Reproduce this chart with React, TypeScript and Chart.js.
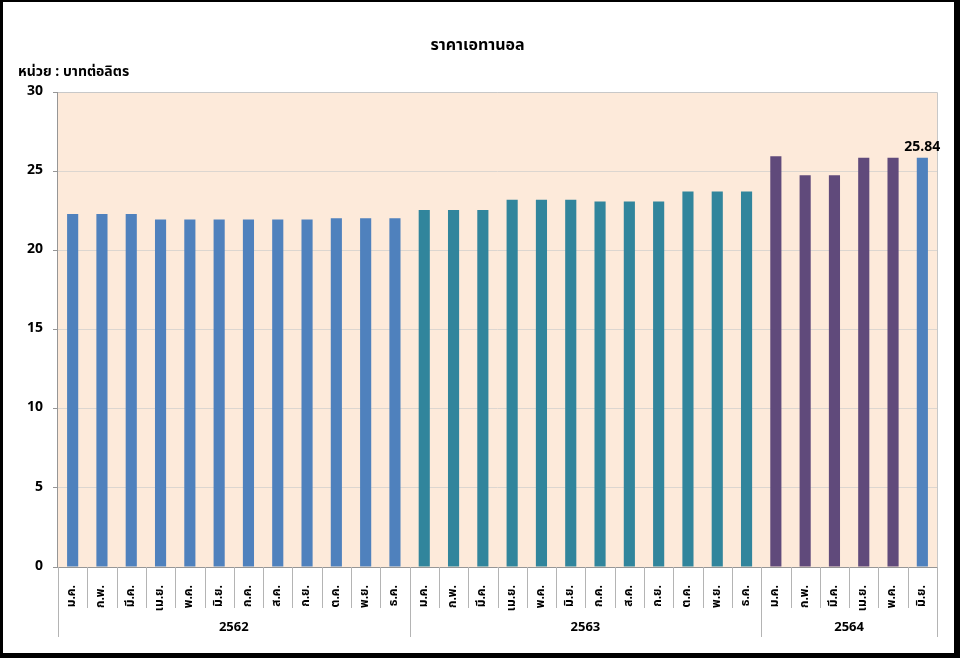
import React, { useEffect, useRef } from "react";
import { Chart, registerables } from "chart.js";

Chart.register(...registerables);

const TITLE = "ราคาเอทานอล";
const UNIT_LABEL = "หน่วย : บาทต่อลิตร";
const MONTHS = ["ม.ค.", "ก.พ.", "มี.ค.", "เม.ย.", "พ.ค.", "มิ.ย.", "ก.ค.", "ส.ค.", "ก.ย.", "ต.ค.", "พ.ย.", "ธ.ค."];
const YEARS = ["2562", "2563", "2564"];
const VALUES_2562 = [22.3, 22.3, 22.3, 21.94, 21.94, 21.94, 21.94, 21.94, 21.94, 22.03, 22.03, 22.03];
const VALUES_2563 = [22.55, 22.55, 22.55, 23.2, 23.2, 23.2, 23.09, 23.09, 23.09, 23.72, 23.72, 23.72];
const VALUES_2564 = [25.95, 24.75, 24.75, 25.84, 25.84, 25.84];
const YEAR_COLORS = ["#4F81BD", "#31859C", "#604A7B"];
const HIGHLIGHT_COLOR = "#4F81BD";
const Y_MIN = 0;
const Y_MAX = 30;
const Y_STEP = 5;

const FONT = "Tahoma, 'Noto Sans Thai', Loma, 'Noto Sans', 'DejaVu Sans', sans-serif";

const yearSeries = [VALUES_2562, VALUES_2563, VALUES_2564];
const labels: string[] = [];
const values: number[] = [];
const yearIndex: number[] = [];
yearSeries.forEach((arr, yi) => {
  arr.forEach((v, i) => {
    labels.push(MONTHS[i]);
    values.push(v);
    yearIndex.push(yi);
  });
});
const lastIdx = values.length - 1;
const bgColors = values.map((_, i) => (i === lastIdx ? HIGHLIGHT_COLOR : YEAR_COLORS[yearIndex[i]]));

const areaPlugin = {
  id: "areaDeco",
  beforeDraw(chart: any) {
    const { ctx, chartArea: a } = chart;
    ctx.save();
    ctx.fillStyle = "#FDEADA";
    ctx.fillRect(a.left, a.top, a.right - a.left, a.bottom - a.top);
    ctx.restore();
  },
  afterDatasetsDraw(chart: any) {
    const { ctx, chartArea: a } = chart;
    const xs = chart.scales.x;
    ctx.save();
    ctx.lineWidth = 1;
    ctx.strokeStyle = "#C8C8C8";
    ctx.beginPath();
    ctx.moveTo(a.left, a.top + 0.5);
    ctx.lineTo(a.right + 0.5, a.top + 0.5);
    ctx.lineTo(a.right + 0.5, a.bottom);
    ctx.stroke();
    ctx.strokeStyle = "#969696";
    ctx.beginPath();
    ctx.moveTo(a.left - 0.5, a.top);
    ctx.lineTo(a.left - 0.5, a.bottom + 0.5);
    ctx.lineTo(a.right + 0.5, a.bottom + 0.5);
    ctx.stroke();

    const n = values.length;
    let acc = 0;
    const groupStarts: number[] = [0];
    yearSeries.forEach((arr) => {
      acc += arr.length;
      groupStarts.push(acc);
    });
    ctx.strokeStyle = "#B4B4B4";
    for (let i = 0; i <= n; i++) {
      const x = Math.round(xs.getPixelForValue(i - 0.5)) + 0.5;
      const isGroup = groupStarts.includes(i);
      ctx.beginPath();
      ctx.moveTo(x, a.bottom);
      ctx.lineTo(x, a.bottom + (isGroup ? 70 : 41));
      ctx.stroke();
    }
    ctx.fillStyle = "#000";
    ctx.font = `bold 13px ${FONT}`;
    ctx.textAlign = "center";
    ctx.textBaseline = "middle";
    for (let g = 0; g < YEARS.length; g++) {
      const x1 = xs.getPixelForValue(groupStarts[g] - 0.5);
      const x2 = xs.getPixelForValue(groupStarts[g + 1] - 0.5);
      ctx.fillText(YEARS[g], (x1 + x2) / 2, a.bottom + 61);
    }
    const meta = chart.getDatasetMeta(0);
    const bar = meta.data[lastIdx];
    if (bar) {
      ctx.textBaseline = "bottom";
      ctx.font = `bold 14px ${FONT}`;
      ctx.fillText(values[lastIdx].toFixed(2), bar.x, bar.y - 3);
    }
    ctx.restore();
  },
};

export default function App() {
  const ref = useRef<HTMLCanvasElement | null>(null);
  useEffect(() => {
    if (!ref.current) return;
    const chart = new Chart(ref.current, {
      type: "bar",
      data: {
        labels,
        datasets: [
          {
            data: values,
            backgroundColor: bgColors,
            borderWidth: 0,
            barPercentage: 0.38,
            categoryPercentage: 1,
          },
        ],
      },
      options: {
        responsive: false,
        animation: false,
        events: [],
        layout: { padding: { left: 18, right: 23, top: 0, bottom: 0 } },
        plugins: {
          legend: { display: false },
          tooltip: { enabled: false },
          title: {
            display: true,
            text: TITLE,
            color: "#000",
            font: { family: FONT, size: 16, weight: "bold", lineHeight: 1.2 },
            padding: { top: 37, bottom: 9 },
          },
          subtitle: {
            display: true,
            text: UNIT_LABEL,
            align: "start",
            color: "#000",
            font: { family: FONT, size: 14, weight: "bold", lineHeight: 1.2 },
            padding: { top: 0, bottom: 10 },
          },
        },
        scales: {
          x: {
            type: "category",
            grid: { display: false },
            border: { display: false },
            ticks: {
              autoSkip: false,
              maxRotation: 90,
              minRotation: 90,
              padding: 10,
              color: "#000",
              font: { family: FONT, size: 12, weight: "bold" },
            },
            afterFit(scale: any) {
              scale.height = 91;
            },
          },
          y: {
            min: Y_MIN,
            max: Y_MAX,
            ticks: {
              stepSize: Y_STEP,
              padding: 10,
              color: "#000",
              font: { family: FONT, size: 14, weight: "bold" },
            },
            grid: {
              color: "#DCD6D0",
              tickColor: "#969696",
              tickLength: 5,
            },
            border: { display: false },
            afterFit(scale: any) {
              scale.width = 40;
            },
          },
        },
      },
      plugins: [areaPlugin],
    });
    return () => chart.destroy();
  }, []);

  return (
    <div style={{ position: "fixed", left: 0, top: 0, width: 960, height: 658, background: "#fff" }}>
      <canvas ref={ref} width={960} height={658} style={{ display: "block", width: 960, height: 658 }} />
      <div
        style={{
          position: "absolute",
          left: 0,
          top: 0,
          width: 960,
          height: 658,
          boxSizing: "border-box",
          borderStyle: "solid",
          borderColor: "#000",
          borderWidth: "2px 6px 5px 3px",
          pointerEvents: "none",
        }}
      />
    </div>
  );
}
